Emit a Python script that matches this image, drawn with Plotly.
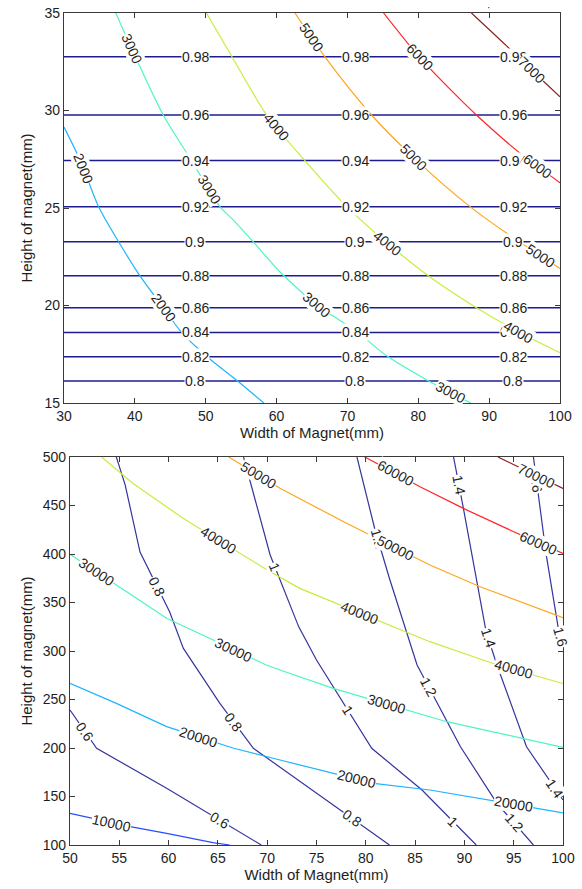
import math
import plotly.graph_objects as go

FIG_W, FIG_H = 582, 889
FONT = "Liberation Sans, Arial, Helvetica, sans-serif"

# ---------------------------------------------------------------------------
# Upper panel: width 30-100 mm, height 15-35 mm
# ---------------------------------------------------------------------------
eff_levels = ["0.8", "0.82", "0.84", "0.86", "0.88", "0.9", "0.92", "0.94", "0.96", "0.98"]
eff_heights = [16.13, 17.37, 18.62, 19.89, 21.53, 23.27, 25.07, 27.43, 29.77, 32.76]

force_levels_top = ["2000", "3000", "4000", "5000", "6000", "7000"]
force_2000_w = [30.0, 32.3, 34.9, 37.7, 40.7, 44.0, 46.6, 50.2, 54.5, 58.2]
force_2000_h = [29.15, 27.43, 25.05, 23.27, 21.53, 19.89, 18.62, 17.37, 16.13, 15.0]
force_3000_w = [37.3, 40.5, 44.0, 48.0, 52.0, 53.9, 56.7, 60.8, 65.7, 71.3, 75.5, 81.2, 87.4]
force_3000_h = [35.0, 32.42, 29.77, 27.43, 25.07, 24.38, 23.27, 21.6, 20.03, 18.66, 17.43, 16.18, 15.0]
force_4000_w = [50.1, 53.7, 58.6, 64.0, 69.9, 75.4, 81.4, 88.2, 94.3, 100.0]
force_4000_h = [35.0, 32.76, 29.77, 27.43, 25.07, 23.27, 21.53, 19.89, 18.62, 17.58]
force_5000_w = [62.6, 66.8, 73.4, 79.8, 87.3, 92.5, 100.0]
force_5000_h = [35.0, 32.76, 29.77, 27.43, 25.07, 23.7, 21.9]
force_6000_w = [75.1, 80.0, 85.0, 88.2, 94.4, 100.0]
force_6000_h = [35.0, 32.8, 30.9, 29.77, 27.8, 26.3]
force_7000_w = [87.5, 92.5, 96.5, 100.0]
force_7000_h = [35.0, 33.3, 31.9, 30.7]

top_x_ticks = [30, 40, 50, 60, 70, 80, 90, 100]
top_y_ticks = [15, 20, 25, 30, 35]

# ---------------------------------------------------------------------------
# Lower panel: width 50-100 mm, height 100-500 mm
# ---------------------------------------------------------------------------
force_levels_bot = ["10000", "20000", "30000", "40000", "50000", "60000", "70000"]
force_10000_w = [50.0, 56.1, 59.8, 64.5, 66.2]
force_10000_h = [132.7, 118.9, 112.0, 102.4, 100.0]
force_20000_w = [50.0, 54.7, 59.8, 66.6, 71.3, 80.8, 86.5, 100.0]
force_20000_h = [266.7, 246.0, 222.0, 199.7, 187.6, 163.6, 156.7, 133.2]
force_30000_w = [50.0, 59.8, 64.9, 69.9, 71.3, 76.7, 88.2, 95.0, 100.0]
force_30000_h = [399.7, 333.7, 309.6, 285.6, 280.4, 261.5, 227.1, 211.7, 200.7]
force_40000_w = [53.2, 56.4, 61.5, 70.0, 73.3, 86.5, 92.9, 100.0]
force_40000_h = [500.0, 472.7, 436.6, 383.5, 364.6, 309.6, 287.1, 266.5]
force_50000_w = [66.1, 71.3, 78.1, 86.5, 91.6, 100.0]
force_50000_h = [500.0, 467.7, 431.4, 388.7, 366.3, 334.3]
force_60000_w = [79.9, 85.5, 89.9, 95.0, 100.0]
force_60000_h = [500.0, 469.4, 447.0, 423.0, 400.5]
force_70000_w = [93.4, 100.0]
force_70000_h = [500.0, 467.5]

ratio_levels = ["0.6", "0.8", "1", "1.2", "1.4", "1.6"]
ratio_06_w = [50.0, 52.7, 59.8, 69.4]
ratio_06_h = [239.2, 199.7, 158.5, 100.0]
ratio_08_w = [54.7, 55.6, 57.1, 60.1, 61.5, 65.2, 68.6, 82.4]
ratio_08_h = [500.0, 471.0, 402.0, 340.5, 302.7, 246.0, 199.7, 100.0]
ratio_10_w = [67.6, 70.3, 73.2, 75.0, 80.6, 85.7, 91.2]
ratio_10_h = [500.0, 399.0, 324.9, 290.7, 199.7, 156.7, 100.0]
ratio_12_w = [79.1, 80.9, 82.4, 85.2, 89.6, 93.3, 97.0]
ratio_12_h = [500.0, 426.3, 374.7, 285.6, 201.3, 143.0, 100.0]
ratio_14_w = [88.9, 89.9, 92.2, 93.3, 96.3, 100.0]
ratio_14_h = [500.0, 447.0, 319.9, 285.6, 201.3, 146.4]
ratio_16_w = [97.0, 98.3, 99.5, 100.0]
ratio_16_h = [500.0, 399.0, 324.9, 306.0]

bot_x_ticks = [50, 55, 60, 65, 70, 75, 80, 85, 90, 95, 100]
bot_y_ticks = [100, 150, 200, 250, 300, 350, 400, 450, 500]

# ---------------------------------------------------------------------------
# Styling and layout geometry
# ---------------------------------------------------------------------------
TOP_XR, TOP_YR = [30, 100], [15, 35]
BOT_XR, BOT_YR = [50, 100], [100, 500]
TOP_BOX = (64, 560, 13, 403)     # left, right, top, bottom in pixels
BOT_BOX = (70, 563, 457, 845)

EFF_COLOR = "#1c1c90"
RATIO_COLOR = "#34349c"
TOP_COLORS = ["#1eb4ff", "#4cf5c4", "#c4ee3c", "#ffa51e", "#ff2626", "#8c1e1e"]
BOT_COLORS = ["#2a4cff", "#1eb4ff", "#4cf5c4", "#c4ee3c", "#ffa51e", "#ff2626", "#8c1e1e"]
LABEL_FONT = dict(family=FONT, size=14, color="#1e1e1e")

# where the inline contour labels sit: ("w", width) or ("h", height) on each curve
eff_label_widths = [48.5, 71.1, 93.4]
top_label_spots = [
    [("h", 27.05), ("h", 19.9)],
    [("h", 33.15), ("h", 25.97), ("w", 65.7), ("w", 84.5)],
    [("w", 60.0), ("w", 75.6), ("w", 94.1)],
    [("w", 64.9), ("w", 79.3), ("w", 97.3)],
    [("w", 80.2), ("w", 96.8)],
    [("w", 96.0)],
]
bot_force_label_spots = [
    [("w", 54.2)],
    [("w", 63.0), ("w", 79.1), ("w", 95.0)],
    [("w", 52.7), ("w", 66.6), ("w", 82.1)],
    [("w", 65.05), ("w", 79.4), ("w", 95.0)],
    [("w", 69.1), ("w", 83.0)],
    [("w", 83.0), ("w", 97.5)],
    [("w", 97.3)],
]
ratio_label_spots = [
    [("h", 216.8), ("h", 125.8)],
    [("h", 366.1), ("h", 227.1), ("h", 127.5)],
    [("h", 386.8), ("h", 239.2), ("h", 124.0)],
    [("h", 416.0), ("h", 263.2), ("h", 122.4)],
    [("h", 471.1), ("h", 312.9), ("h", 158.2)],
    [("h", 473.5), ("h", 314.7)],
]


def px_scale(box, xr, yr):
    left, right, top, bottom = box
    return (right - left) / (xr[1] - xr[0]), (bottom - top) / (yr[1] - yr[0])


def spot_on_curve(ws, hs, key, value):
    """Locate a point on a polyline by one coordinate; return point and local direction."""
    for i in range(len(ws) - 1):
        a0, a1 = (ws[i], ws[i + 1]) if key == "w" else (hs[i], hs[i + 1])
        if a0 != a1 and min(a0, a1) <= value <= max(a0, a1):
            t = (value - a0) / (a1 - a0)
            x = ws[i] + t * (ws[i + 1] - ws[i])
            y = hs[i] + t * (hs[i + 1] - hs[i])
            return x, y, ws[i + 1] - ws[i], hs[i + 1] - hs[i]
    raise ValueError("label spot outside curve")


def text_angle(dx, dy, sx, sy):
    ang = math.degrees(math.atan2(-dy * sy, dx * sx))
    if ang > 90:
        ang -= 180
    if ang < -90:
        ang += 180
    return ang


fig = go.Figure()
annotations = []

# ----- upper panel traces
for lvl, h in zip(eff_levels, eff_heights):
    fig.add_trace(go.Scatter(x=[TOP_XR[0], TOP_XR[1]], y=[h, h], mode="lines",
                             line=dict(color=EFF_COLOR, width=1.5),
                             xaxis="x", yaxis="y", hoverinfo="skip", showlegend=False))

top_curves = [
    (force_2000_w, force_2000_h), (force_3000_w, force_3000_h), (force_4000_w, force_4000_h),
    (force_5000_w, force_5000_h), (force_6000_w, force_6000_h), (force_7000_w, force_7000_h),
]
for (ws, hs), col in zip(top_curves, TOP_COLORS):
    fig.add_trace(go.Scatter(x=ws, y=hs, mode="lines",
                             line=dict(color=col, width=1.2, shape="spline", smoothing=0.8),
                             xaxis="x", yaxis="y", hoverinfo="skip", showlegend=False))

# ----- lower panel traces
ratio_curves = [
    (ratio_06_w, ratio_06_h), (ratio_08_w, ratio_08_h), (ratio_10_w, ratio_10_h),
    (ratio_12_w, ratio_12_h), (ratio_14_w, ratio_14_h), (ratio_16_w, ratio_16_h),
]
for ws, hs in ratio_curves:
    fig.add_trace(go.Scatter(x=ws, y=hs, mode="lines",
                             line=dict(color=RATIO_COLOR, width=1.2),
                             xaxis="x2", yaxis="y2", hoverinfo="skip", showlegend=False))

bot_curves = [
    (force_10000_w, force_10000_h), (force_20000_w, force_20000_h), (force_30000_w, force_30000_h),
    (force_40000_w, force_40000_h), (force_50000_w, force_50000_h), (force_60000_w, force_60000_h),
    (force_70000_w, force_70000_h),
]
for (ws, hs), col in zip(bot_curves, BOT_COLORS):
    fig.add_trace(go.Scatter(x=ws, y=hs, mode="lines",
                             line=dict(color=col, width=1.2),
                             xaxis="x2", yaxis="y2", hoverinfo="skip", showlegend=False))


def add_label(text, x, y, ang, xref, yref):
    annotations.append(dict(text=text, x=x, y=y, xref=xref, yref=yref, showarrow=False,
                            textangle=ang, font=LABEL_FONT, bgcolor="white", borderpad=0,
                            xanchor="center", yanchor="middle"))


# ----- inline labels, upper panel
for lvl, h in zip(eff_levels, eff_heights):
    for w in eff_label_widths:
        add_label(lvl, w, h, 0, "x", "y")

sx, sy = px_scale(TOP_BOX, TOP_XR, TOP_YR)
for lvl, (ws, hs), spots in zip(force_levels_top, top_curves, top_label_spots):
    for key, val in spots:
        x, y, dx, dy = spot_on_curve(ws, hs, key, val)
        add_label(lvl, x, y, text_angle(dx, dy, sx, sy), "x", "y")

# ----- inline labels, lower panel
sx, sy = px_scale(BOT_BOX, BOT_XR, BOT_YR)
for lvl, (ws, hs), spots in zip(ratio_levels, ratio_curves, ratio_label_spots):
    for key, val in spots:
        x, y, dx, dy = spot_on_curve(ws, hs, key, val)
        add_label(lvl, x, y, text_angle(dx, dy, sx, sy), "x2", "y2")
for lvl, (ws, hs), spots in zip(force_levels_bot, bot_curves, bot_force_label_spots):
    for key, val in spots:
        x, y, dx, dy = spot_on_curve(ws, hs, key, val)
        add_label(lvl, x, y, text_angle(dx, dy, sx, sy), "x2", "y2")

# small mark above the upper panel
annotations.append(dict(text="·", x=488 / FIG_W, y=1.0, xref="paper", yref="paper",
                        showarrow=False, font=dict(family=FONT, size=10, color="#111"),
                        xanchor="center", yanchor="top"))


def dom_x(box):
    return [box[0] / FIG_W, box[1] / FIG_W]


def dom_y(box):
    return [1 - box[3] / FIG_H, 1 - box[2] / FIG_H]


axis_common = dict(showline=True, linecolor="#3a3a3a", linewidth=1.3, mirror="ticks",
                   ticks="inside", ticklen=5, tickwidth=1.3, tickcolor="#3a3a3a",
                   showgrid=False, zeroline=False, automargin=False,
                   tickfont=dict(family=FONT, size=14, color="#1e1e1e"))
title_font = dict(family=FONT, size=15, color="#1e1e1e")

fig.update_layout(
    width=FIG_W, height=FIG_H,
    margin=dict(l=0, r=0, t=0, b=0),
    paper_bgcolor="white", plot_bgcolor="white",
    showlegend=False,
    xaxis=dict(domain=dom_x(TOP_BOX), range=TOP_XR, tickvals=top_x_ticks, anchor="y",
               title=dict(text="Width of Magnet(mm)", font=title_font, standoff=4), **axis_common),
    yaxis=dict(domain=dom_y(TOP_BOX), range=TOP_YR, tickvals=top_y_ticks, anchor="x",
               title=dict(text="Height of magnet(mm)", font=title_font, standoff=8), **axis_common),
    xaxis2=dict(domain=dom_x(BOT_BOX), range=BOT_XR, tickvals=bot_x_ticks, anchor="y2",
                title=dict(text="Width of Magnet(mm)", font=title_font, standoff=4), **axis_common),
    yaxis2=dict(domain=dom_y(BOT_BOX), range=BOT_YR, tickvals=bot_y_ticks, anchor="x2",
                title=dict(text="Height of magnet(mm)", font=title_font, standoff=6), **axis_common),
    annotations=annotations,
)

fig.write_html("out.html")
